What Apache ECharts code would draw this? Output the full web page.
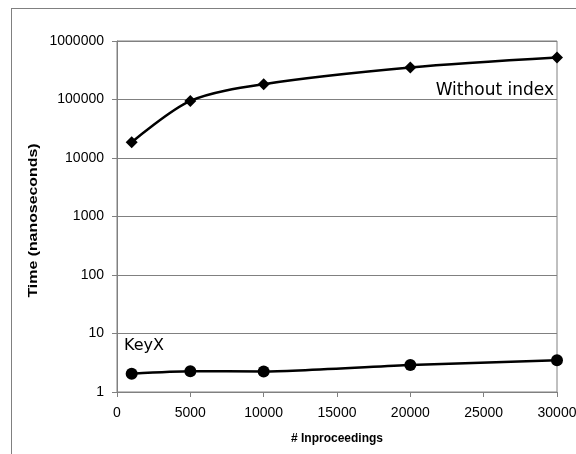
<!DOCTYPE html>
<html><head><meta charset="utf-8">
<script src="https://cdn.jsdelivr.net/npm/echarts@6/dist/echarts.min.js"></script>
<style>html,body{margin:0;padding:0;background:#fff}#c{width:576px;height:454px}</style>
</head><body><div id="c"></div>
<script>
const xValues = [1000, 5000, 10000, 20000, 30000];
const withoutIndex = [18600, 94600, 183000, 352000, 521000];
const keyX = [2.06, 2.26, 2.25, 2.9, 3.49];
const seriesNames = ['Without index', 'KeyX'];
const xTitle = '# Inproceedings';
const yTitle = 'Time (nanoseconds)';

const chart = echarts.init(document.getElementById('c'), null, {renderer: 'canvas'});
const pairs = a => xValues.map((x, i) => [x, a[i]]);
chart.setOption({
  animation: false,
  backgroundColor: '#fff',
  grid: {left: 117, right: 19, top: 41, bottom: 62, show: true, borderColor: '#808080', borderWidth: 1, containLabel: false, outerBoundsMode: 'none'},
  xAxis: {
    type: 'value', min: 0, max: 30000, interval: 5000,
    name: xTitle, nameLocation: 'middle', nameGap: 41,
    nameTextStyle: {fontFamily: 'Liberation Sans', fontWeight: 'bold', fontSize: 12, color: '#000'},
    axisLine: {lineStyle: {color: '#808080', width: 1}},
    axisTick: {show: true, length: 5, lineStyle: {color: '#808080'}},
    axisLabel: {fontFamily: 'Liberation Sans', fontSize: 14, color: '#000', margin: 14, formatter: v => String(v), hideOverlap: false},
    splitLine: {show: false}
  },
  yAxis: {
    type: 'log', logBase: 10, min: 1, max: 1000000,
    axisLine: {show: true, lineStyle: {color: '#808080', width: 1}},
    axisTick: {show: true, length: 5, lineStyle: {color: '#808080'}},
    axisLabel: {fontFamily: 'Liberation Sans', fontSize: 14, color: '#000', margin: 13, formatter: v => String(Math.round(v))},
    splitLine: {show: true, lineStyle: {color: '#808080', width: 1}},
    minorTick: {show: false}
  },
  series: [
    {
      name: seriesNames[0], type: 'line', data: pairs(withoutIndex), smooth: 0.3,
      symbol: 'diamond', symbolSize: 12, lineStyle: {color: '#000', width: 2.5},
      itemStyle: {color: '#000'}
    },
    {
      name: seriesNames[1], type: 'line', data: pairs(keyX), smooth: 0.2,
      symbol: 'circle', symbolSize: 12, lineStyle: {color: '#000', width: 2.5},
      itemStyle: {color: '#000'}
    }
  ],
  graphic: [
    {type: 'line', shape: {x1: 12, y1: 8.5, x2: 576, y2: 8.5}, style: {stroke: '#808080', lineWidth: 1}},
    {type: 'line', shape: {x1: 11.5, y1: 8, x2: 11.5, y2: 454}, style: {stroke: '#808080', lineWidth: 1}},
    {type: 'text', x: 34, y: 220.5, rotation: Math.PI / 2, scaleX: 1.27,
     style: {text: yTitle, font: 'bold 12.5px "Liberation Sans"', fill: '#000', align: 'center', verticalAlign: 'middle'}},
    {type: 'text', right: 22, top: 82, style: {text: seriesNames[0], font: '17px "DejaVu Sans"', fill: '#000'}},
    {type: 'text', left: 124, top: 338, style: {text: seriesNames[1], font: '16px "DejaVu Sans"', fill: '#000'}}
  ]
});
</script></body></html>
